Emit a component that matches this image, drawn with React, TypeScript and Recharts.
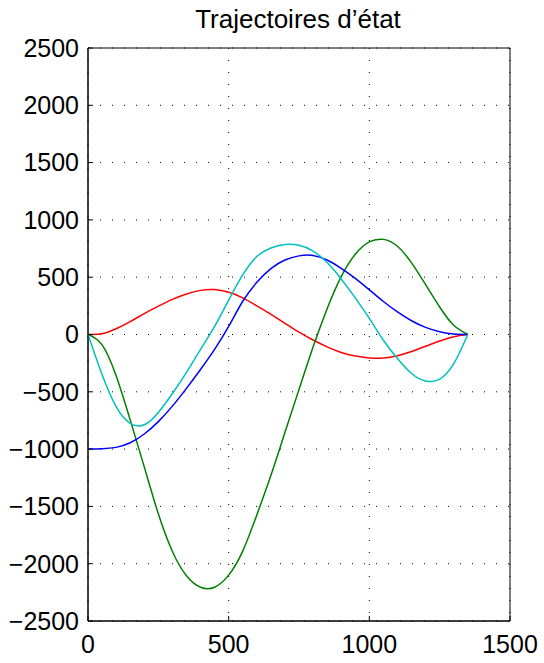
import React from "react";
import {
  LineChart,
  Line,
  XAxis,
  YAxis,
  CartesianGrid,
  ReferenceArea,
} from "recharts";

// sample positions (step 50) and the four state trajectories
const xs = [
  0, 50, 100, 150, 200, 250, 300, 350, 400, 450, 500, 550, 600, 650, 700, 750,
  800, 850, 900, 950, 1000, 1050, 1100, 1150, 1200, 1250, 1300, 1350,
];
const red = [
  0, 6, 50, 112, 183, 248, 307, 354, 385, 392, 368, 320, 250, 176, 98, 20, -48,
  -108, -157, -188, -204, -205, -185, -148, -103, -57, -19, 0,
];
const blue = [
  -1000, -997, -985, -945, -868, -760, -625, -470, -305, -130, 70, 290, 455,
  575, 650, 686, 690, 650, 578, 490, 390, 288, 197, 120, 62, 24, 4, 0,
];
const cyan = [
  0, -350, -630, -775, -788, -680, -515, -330, -130, 70, 300, 520, 680, 755,
  785, 778, 728, 628, 485, 320, 140, -50, -210, -340, -405, -390, -255, 0,
];
const green = [
  0, -90, -360, -745, -1155, -1565, -1893, -2105, -2205, -2205, -2100, -1890,
  -1575, -1230, -855, -480, -110, 225, 505, 700, 808, 830, 770, 625, 435, 240,
  80, 0,
];

const xTicks = [0, 500, 1000, 1500];
const yTicks = [-2500, -2000, -1500, -1000, -500, 0, 500, 1000, 1500, 2000, 2500];

const data = xs.map((x, i) => ({
  x,
  red: red[i],
  blue: blue[i],
  cyan: cyan[i],
  green: green[i],
}));

const font = "'Liberation Sans', Arial, Helvetica, sans-serif";
const tickStyle = { fill: "#000", fontSize: 25, fontFamily: font };
const fmt = (v: number) => String(v).replace("-", "\u2212");

export default function App() {
  return (
    <div style={{ position: "relative", width: 544, height: 663, background: "#fff" }}>
      <style>{`body{margin:0}`}</style>
      <div
        style={{
          position: "absolute",
          left: 0,
          width: 596,
          top: 6,
          textAlign: "center",
          fontFamily: font,
          fontSize: 26,
          lineHeight: "26px",
          color: "#000",
        }}
      >
        Trajectoires d’état
      </div>
      <LineChart
        width={544}
        height={663}
        data={data}
        margin={{ top: 48, right: 34, bottom: 0, left: 0 }}
      >
        <CartesianGrid stroke="#000" strokeDasharray="1 11" />
        <XAxis
          dataKey="x"
          type="number"
          domain={[0, 1500]}
          ticks={xTicks}
          height={42}
          tickSize={-5}
          tickMargin={19}
          tick={tickStyle}
          axisLine={{ stroke: "#000" }}
          tickLine={{ stroke: "#000" }}
          allowDataOverflow
        />
        <XAxis
          xAxisId="top"
          orientation="top"
          dataKey="x"
          type="number"
          domain={[0, 1500]}
          ticks={xTicks}
          height={0}
          tickSize={-5}
          tickFormatter={() => ""}
          axisLine={{ stroke: "#000" }}
          tickLine={{ stroke: "#000" }}
        />
        <YAxis
          type="number"
          domain={[-2500, 2500]}
          ticks={yTicks}
          width={88}
          tickSize={-5}
          tickMargin={14}
          tick={tickStyle}
          tickFormatter={fmt}
          axisLine={{ stroke: "#000" }}
          tickLine={{ stroke: "#000" }}
          allowDataOverflow
        />
        <YAxis
          yAxisId="right"
          orientation="right"
          type="number"
          domain={[-2500, 2500]}
          ticks={yTicks}
          width={0}
          tickSize={-5}
          tickFormatter={() => ""}
          axisLine={{ stroke: "#000" }}
          tickLine={{ stroke: "#000" }}
        />
        <ReferenceArea
          x1={0}
          x2={1500}
          y1={-2500}
          y2={2500}
          fill="none"
          stroke="#000"
          strokeWidth={1}
        />
        <Line type="natural" dataKey="red" stroke="#ff0000" strokeWidth={1.5} dot={false} isAnimationActive={false} />
        <Line type="natural" dataKey="green" stroke="#008000" strokeWidth={1.5} dot={false} isAnimationActive={false} />
        <Line type="natural" dataKey="blue" stroke="#0000ff" strokeWidth={1.5} dot={false} isAnimationActive={false} />
        <Line type="natural" dataKey="cyan" stroke="#00bfbf" strokeWidth={1.5} dot={false} isAnimationActive={false} />
      </LineChart>
    </div>
  );
}
